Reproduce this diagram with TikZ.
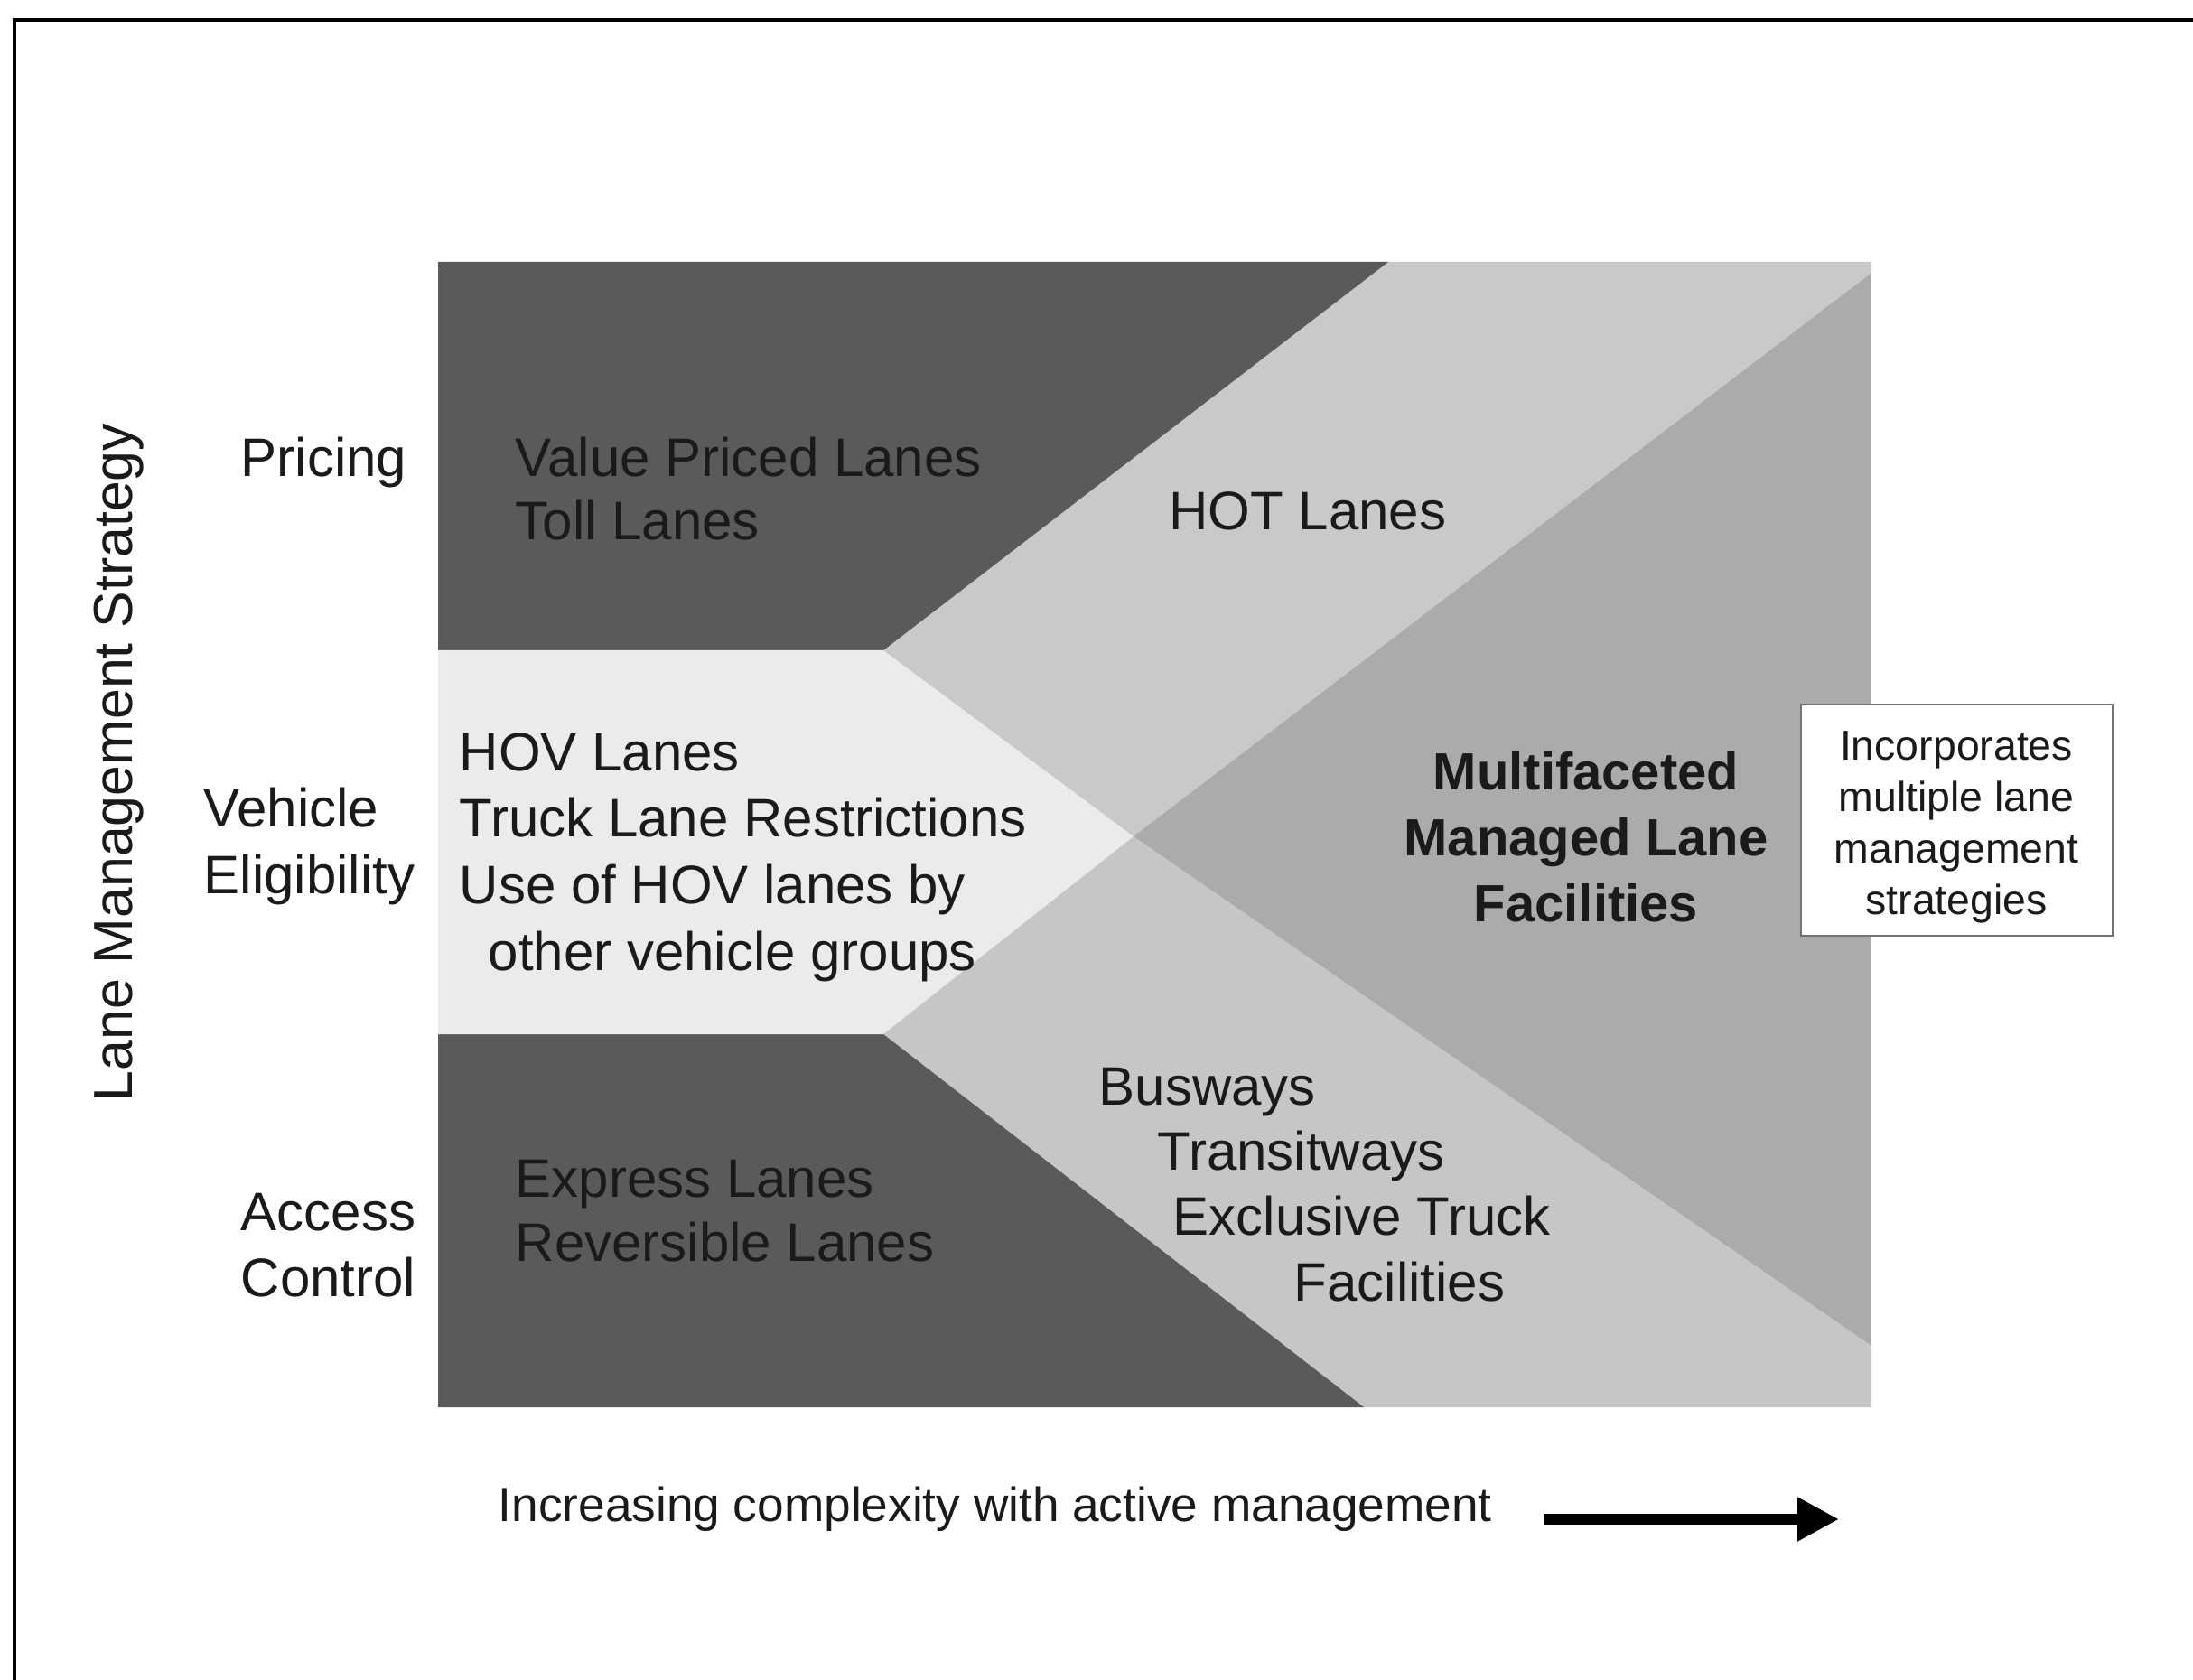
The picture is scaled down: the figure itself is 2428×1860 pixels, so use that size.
\documentclass[tikz,border=0pt]{standalone}
\usepackage{fontspec}
\setmainfont{Liberation Sans}
\usetikzlibrary{arrows.meta}
\definecolor{darkreg}{HTML}{5A5A5A}
\definecolor{hotreg}{HTML}{C9C9C9}
\definecolor{hovreg}{HTML}{EBEBEB}
\definecolor{midreg}{HTML}{ABABAB}
\definecolor{busreg}{HTML}{C6C6C6}
\definecolor{txt}{HTML}{1A1A1A}
\begin{document}
\begin{tikzpicture}[x=0.25pt,y=-0.25pt,
  lbl/.style={font=\fontsize{15pt}{18pt}\selectfont, inner sep=0pt, anchor=base west, text=txt},
  clbl/.style={lbl, anchor=base},
  blbl/.style={font=\fontsize{14.5pt}{18pt}\selectfont\bfseries, inner sep=0pt, anchor=base, text=txt},
  notebox/.style={draw=black!55, line width=0.5pt, fill=white, minimum width=86.25pt, minimum height=64pt, inner sep=0pt, align=center, font=\fontsize{11.6pt}{14.2pt}\selectfont, text=txt},
  axislbl/.style={font=\fontsize{13.3pt}{16pt}\selectfont, inner sep=0pt, anchor=base west, text=txt}]
\useasboundingbox (0,0) rectangle (2428,1860);
\fill[white] (0,0) rectangle (2428,1860);
% frame lines
\draw[line width=0.8pt] (16,1860) -- (16,22) -- (2428,22);
% key points of the panel
\coordinate (PTL) at (485,290);
\coordinate (PTR) at (2072,290);
\coordinate (PBR) at (2072,1558);
\coordinate (PBL) at (485,1558);
\coordinate (A) at (1537,290);
\coordinate (B) at (978,720);
\coordinate (C) at (1255,926);
\coordinate (D) at (978,1145);
\coordinate (E) at (1510,1558);
\coordinate (F) at (2072,302);
\coordinate (G) at (2072,1490);
\coordinate (LB) at (485,720);
\coordinate (LD) at (485,1145);
% regions
\fill[midreg] (PTL) rectangle (PBR);
\fill[hotreg] (B) -- (A) -- (PTR) -- (F) -- (C) -- cycle;
\fill[busreg] (D) -- (C) -- (G) -- (PBR) -- (E) -- cycle;
\fill[darkreg] (PTL) -- (A) -- (B) -- (LB) -- cycle;
\fill[darkreg] (LD) -- (D) -- (E) -- (PBL) -- cycle;
\fill[hovreg] (LB) -- (B) -- (C) -- (D) -- (LD) -- cycle;
% axis label
\node[font=\fontsize{15.2pt}{18pt}\selectfont, text=txt, rotate=90, inner sep=0pt] (axis) at (132,844) {Lane Management Strategy};
% row labels
\node[lbl] (pricing) at (266,528) {Pricing};
\node[lbl] (vehicle) at (225,915) {Vehicle};
\node[lbl] (elig) at (225,989) {Eligibility};
\node[lbl] (access) at (266,1362) {Access};
\node[lbl] (control) at (266,1435) {Control};
% region texts
\node[lbl] (vpl) at (570,528) {Value Priced Lanes};
\node[lbl] (toll) at (570,598) {Toll Lanes};
\node[clbl] (hot) at (1448,587) {HOT Lanes};
\node[lbl] (hov1) at (508,853) {HOV Lanes};
\node[lbl] (hov2) at (508,926) {Truck Lane Restrictions};
\node[lbl] (hov3) at (508,1000) {Use of HOV lanes by};
\node[lbl] (hov4) at (540,1074) {other vehicle groups};
\node[blbl] (mf1) at (1756,874) {Multifaceted};
\node[blbl] (mf2) at (1756,947) {Managed Lane};
\node[blbl] (mf3) at (1756,1020) {Facilities};
\node[lbl] (bus1) at (1216,1223) {Busways};
\node[lbl] (bus2) at (1281,1295) {Transitways};
\node[lbl] (bus3) at (1298,1367) {Exclusive Truck};
\node[lbl] (bus4) at (1432,1440) {Facilities};
\node[lbl] (exp1) at (570,1325) {Express Lanes};
\node[lbl] (exp2) at (570,1396) {Reversible Lanes};
% note box
\node[notebox] (note) at (2166,908) {};
\node[align=center, inner sep=0pt, font=\fontsize{11.6pt}{14.2pt}\selectfont, text=txt] (notetext) at (2166,916) {Incorporates\\multiple lane\\management\\strategies};
% bottom axis
\node[axislbl] (inc) at (551,1684) {Increasing complexity with active management};
\coordinate (arrS) at (1709,1682);
\coordinate (arrE) at (2036,1682);
\draw[line width=2.8pt, -{Triangle[length=11.5pt,width=11.5pt]}] (arrS) -- (arrE);
\end{tikzpicture}
\end{document}
